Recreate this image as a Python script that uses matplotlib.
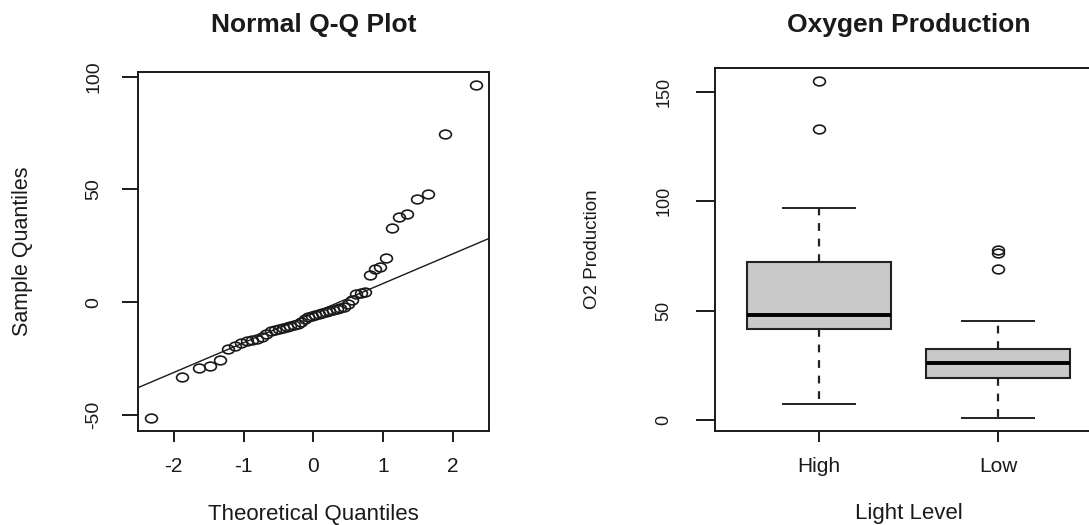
from statistics import NormalDist

import matplotlib.pyplot as plt
import numpy as np
from matplotlib.path import Path

plt.rcParams['font.family'] = ['Liberation Sans', 'DejaVu Sans']
plt.rcParams['axes.unicode_minus'] = False

# sorted model residuals for the normal Q-Q plot
residuals = [-51.3, -33.1, -29.3, -28.2, -25.9, -21.0, -19.6, -18.3, -17.4, -16.9,
             -16.3, -15.6, -14.0, -13.0, -12.3, -11.8, -11.4, -11.0, -10.6, -10.1,
             -9.5, -8.6, -7.6, -6.8, -6.2, -5.6, -5.1, -4.7, -4.3, -3.9,
             -3.5, -3.1, -2.6, -2.0, -1.0, 1.0, 3.5, 4.2, 4.6, 11.9,
             14.6, 15.4, 19.4, 33.1, 37.8, 38.9, 45.9, 47.9, 74.7, 96.2]

# O2 production summaries by light level
levels = ['High', 'Low']
o2_median = [47.8, 25.9]
o2_q1 = [41.4, 19.1]
o2_q3 = [72.3, 32.4]
o2_whislo = [7.5, 1.1]
o2_whishi = [96.7, 45.1]
o2_outliers = [[132.8, 154.6], [68.9, 76.4, 77.5]]

qq_xticks = [-2, -1, 0, 1, 2]
qq_yticks = [-50, 0, 50, 100]
o2_yticks = [0, 50, 100, 150]

INK = '#1a1a1a'

# open circle, a bit wider than tall
circle = Path.unit_circle()
ring = Path(circle.vertices * np.array([1.35, 1.0]), circle.codes)


def ppoints(n):
    a = 3 / 8 if n <= 10 else 0.5
    return [(i + 1 - a) / (n + 1 - 2 * a) for i in range(n)]


def r_frame(ax, xtick_len, ytick_len):
    for sp in ax.spines.values():
        sp.set_linewidth(1.4)
        sp.set_color(INK)
    ax.tick_params(axis='x', direction='out', length=xtick_len, width=1.4,
                   color=INK, labelsize=15, pad=11, labelcolor=INK)
    ax.tick_params(axis='y', direction='out', length=ytick_len, width=1.4,
                   color=INK, labelrotation=90, pad=14, labelcolor=INK)


fig = plt.figure(figsize=(10.89, 5.25), dpi=100)

# --- normal Q-Q plot of the residuals ---
ax1 = fig.add_axes([0.1267, 0.179, 0.3223, 0.6838])
nd = NormalDist()
theo = [nd.inv_cdf(p) for p in ppoints(len(residuals))]
ax1.plot(theo, sorted(residuals), linestyle='none', marker=ring, markersize=8.5,
         markerfacecolor='none', markeredgecolor=INK, markeredgewidth=1.2)

# reference line through the quartiles
qy = np.percentile(residuals, [25, 75])
qx = np.array([nd.inv_cdf(0.25), nd.inv_cdf(0.75)])
slope = (qy[1] - qy[0]) / (qx[1] - qx[0])
icept = qy[0] - slope * qx[0]
ax1.axline((0, icept), slope=slope, color=INK, linewidth=1.0)

ax1.margins(0.04)
ax1.set_xticks(qq_xticks)
ax1.set_yticks(qq_yticks)
r_frame(ax1, 8, 11.5)
ax1.tick_params(axis='y', labelsize=14)
plt.setp(ax1.get_yticklabels(), va='center')
ax1.set_title('Normal Q-Q Plot', fontsize=19, fontweight='bold', pad=29, color=INK)
ax1.set_xlabel('Theoretical Quantiles', fontsize=16, color=INK)
ax1.set_ylabel('Sample Quantiles', fontsize=15.5, color=INK)
ax1.xaxis.set_label_coords(0.5, -0.203)
ax1.yaxis.set_label_coords(-0.299, 0.5)

# --- boxplot of oxygen production ---
ax2 = fig.add_axes([0.6566, 0.179, 0.3554, 0.6914])
stats = []
for i, name in enumerate(levels):
    stats.append(dict(label=name, med=o2_median[i], q1=o2_q1[i], q3=o2_q3[i],
                      whislo=o2_whislo[i], whishi=o2_whishi[i],
                      fliers=o2_outliers[i]))
ax2.bxp(stats, positions=[1, 2], widths=0.8, patch_artist=True,
        boxprops=dict(facecolor='#c9c9c9', edgecolor='#222222', linewidth=1.5),
        medianprops=dict(color='black', linewidth=2.8),
        whiskerprops=dict(color='#222222', linewidth=1.6, linestyle=(0, (3.5, 3.5))),
        capprops=dict(color='#222222', linewidth=1.4),
        capwidths=0.4,
        flierprops=dict(marker=ring, markersize=8.5, markerfacecolor='none',
                        markeredgecolor=INK, markeredgewidth=1.2))
n_groups = len(levels)
ax2.set_xlim(0.5 - 0.04 * n_groups, n_groups + 0.5 + 0.04 * n_groups)
ax2.margins(y=0.04)
ax2.set_yticks(o2_yticks)
r_frame(ax2, 8, 13.7)
ax2.tick_params(axis='y', labelsize=13, pad=17)
plt.setp(ax2.get_yticklabels(), va='center')
ax2.set_title('Oxygen Production', fontsize=19, fontweight='bold', pad=26, color=INK)
ax2.set_xlabel('Light Level', fontsize=16, color=INK)
ax2.set_ylabel('O2 Production', fontsize=13.5, color=INK)
ax2.xaxis.set_label_coords(0.5, -0.198)
ax2.yaxis.set_label_coords(-0.294, 0.5)

fig.savefig('out.png', dpi=100)
